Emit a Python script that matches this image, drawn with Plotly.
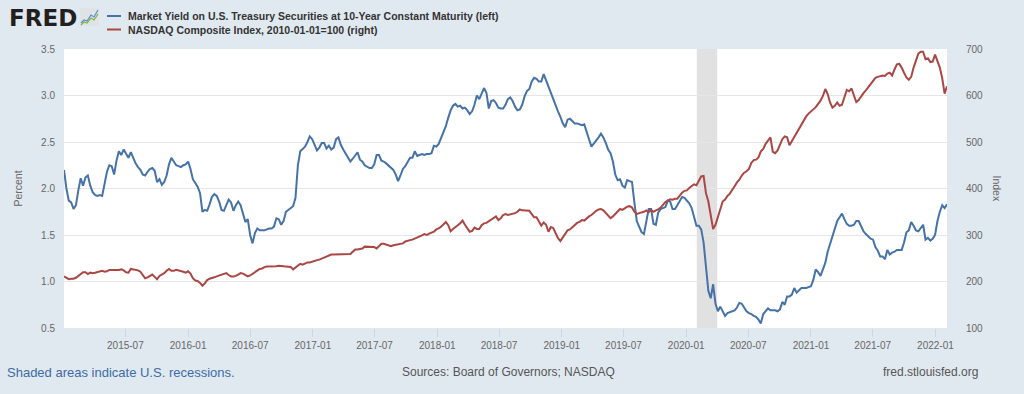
import pandas as pd
import plotly.graph_objects as go

# ---------------- data (weekly, weeks ending Friday) ----------------
START_DATE = "2015-01-02"

# Market Yield on U.S. Treasury Securities at 10-Year Constant Maturity (percent)
yield_2015 = [2.20, 2.00, 1.87, 1.85, 1.78, 1.82, 1.98, 2.11, 2.03, 2.12,
              2.14, 2.03, 1.96, 1.93, 1.92, 1.93, 1.92, 2.05, 2.18, 2.25,
              2.24, 2.15, 2.30, 2.40, 2.36, 2.42, 2.37, 2.33, 2.39, 2.32,
              2.27, 2.23, 2.20, 2.15, 2.14, 2.18, 2.21, 2.22, 2.19, 2.07,
              2.10, 2.04, 2.07, 2.14, 2.26, 2.33, 2.29, 2.25, 2.24, 2.23,
              2.25, 2.26]
yield_2016 = [2.29, 2.21, 2.10, 2.06, 2.02, 1.95, 1.75, 1.77, 1.76, 1.83,
              1.91, 1.94, 1.92, 1.86, 1.77, 1.76, 1.83, 1.88, 1.85, 1.76,
              1.82, 1.86, 1.82, 1.74, 1.64, 1.67, 1.50, 1.41, 1.52, 1.57,
              1.55, 1.55, 1.55, 1.56, 1.57, 1.57, 1.59, 1.68, 1.67, 1.61,
              1.65, 1.75, 1.77, 1.79, 1.81, 1.90, 2.25, 2.40, 2.43, 2.45,
              2.50, 2.56, 2.53]
yield_2017 = [2.46, 2.41, 2.44, 2.49, 2.49, 2.43, 2.46, 2.42, 2.44, 2.53,
              2.55, 2.47, 2.42, 2.38, 2.34, 2.29, 2.32, 2.36, 2.39, 2.31,
              2.29, 2.25, 2.23, 2.22, 2.22, 2.26, 2.36, 2.36, 2.30, 2.29,
              2.27, 2.25, 2.22, 2.20, 2.15, 2.08, 2.14, 2.21, 2.24, 2.29,
              2.33, 2.33, 2.40, 2.35, 2.36, 2.37, 2.36, 2.37, 2.37, 2.38,
              2.46, 2.45]
yield_2018 = [2.48, 2.54, 2.61, 2.67, 2.76, 2.84, 2.89, 2.91, 2.88, 2.89,
              2.86, 2.87, 2.84, 2.80, 2.83, 2.90, 3.00, 2.96, 3.02, 3.08,
              3.03, 2.86, 2.94, 2.95, 2.92, 2.87, 2.86, 2.86, 2.90, 2.96,
              2.98, 2.94, 2.88, 2.84, 2.85, 2.90, 2.99, 3.05, 3.07, 3.15,
              3.19, 3.18, 3.15, 3.15, 3.23, 3.16, 3.10, 3.04, 2.96, 2.88,
              2.83, 2.77]
yield_2019 = [2.70, 2.66, 2.74, 2.75, 2.73, 2.70, 2.70, 2.69, 2.68, 2.69,
              2.62, 2.53, 2.45, 2.48, 2.52, 2.55, 2.59, 2.55, 2.49, 2.42,
              2.38, 2.29, 2.15, 2.09, 2.10, 2.03, 2.01, 2.09, 2.08, 2.07,
              1.85, 1.65, 1.59, 1.53, 1.51, 1.64, 1.78, 1.78, 1.62, 1.61,
              1.74, 1.78, 1.79, 1.80, 1.87, 1.86, 1.78, 1.78, 1.82, 1.86,
              1.91, 1.90]
yield_2020 = [1.87, 1.84, 1.79, 1.69, 1.60, 1.60, 1.56, 1.42, 1.18, 0.90,
              0.82, 0.97, 0.76, 0.68, 0.73, 0.67, 0.63, 0.66, 0.67, 0.68,
              0.69, 0.72, 0.77, 0.76, 0.72, 0.68, 0.66, 0.65, 0.63, 0.62,
              0.59, 0.55, 0.65, 0.68, 0.71, 0.69, 0.69, 0.69, 0.68, 0.70,
              0.78, 0.75, 0.84, 0.84, 0.86, 0.93, 0.88, 0.91, 0.93, 0.93,
              0.93, 0.94]
yield_2021 = [0.95, 1.02, 1.13, 1.10, 1.06, 1.13, 1.20, 1.32, 1.40, 1.48,
              1.57, 1.65, 1.69, 1.73, 1.67, 1.62, 1.60, 1.60, 1.61, 1.65,
              1.65, 1.60, 1.54, 1.51, 1.48, 1.46, 1.45, 1.37, 1.33, 1.27,
              1.27, 1.24, 1.34, 1.29, 1.31, 1.32, 1.34, 1.34, 1.34, 1.42,
              1.53, 1.55, 1.64, 1.60, 1.55, 1.54, 1.58, 1.61, 1.45, 1.47,
              1.44, 1.46, 1.50]
yield_2022 = [1.65, 1.75, 1.82, 1.79, 1.83]

# NASDAQ Composite Index, 2010-01-01=100
nasdaq_2015 = [211, 207, 205, 206, 206, 208, 212, 215, 220, 220,
               216, 219, 218, 219, 220, 222, 223, 221, 222, 225,
               225, 225, 224, 225, 226, 224, 220, 219, 227, 226,
               225, 224, 221, 214, 207, 209, 212, 215, 210, 205,
               212, 215, 218, 223, 227, 223, 223, 225, 224, 222,
               221, 219]
nasdaq_2016 = [222, 217, 207, 202, 201, 197, 191, 196, 203, 206,
               207, 209, 211, 213, 215, 216, 218, 214, 211, 211,
               212, 215, 218, 217, 214, 211, 213, 217, 221, 225,
               227, 228, 231, 232, 232, 232, 232, 233, 234, 234,
               233, 232, 232, 231, 226, 230, 234, 238, 236, 239,
               241, 241, 243]
nasdaq_2017 = [245, 246, 247, 249, 251, 254, 255, 258, 258, 258,
               259, 259, 258, 259, 258, 259, 264, 269, 269, 270,
               271, 275, 275, 274, 274, 274, 271, 276, 281, 281,
               279, 277, 276, 278, 279, 281, 282, 282, 286, 288,
               289, 290, 292, 295, 297, 299, 302, 300, 303, 305,
               307, 312]
nasdaq_2018 = [314, 318, 324, 328, 321, 308, 313, 318, 321, 325,
               331, 322, 313, 307, 309, 316, 313, 313, 321, 325,
               326, 330, 333, 338, 340, 332, 336, 343, 345, 343,
               344, 346, 347, 350, 355, 353, 353, 353, 352, 345,
               338, 338, 330, 320, 327, 322, 307, 317, 315, 305,
               293, 287]
nasdaq_2019 = [295, 304, 310, 312, 317, 323, 326, 328, 332, 331,
               336, 340, 343, 348, 352, 355, 356, 353, 347, 341,
               336, 340, 346, 352, 356, 354, 358, 361, 362, 359,
               350, 345, 347, 348, 350, 353, 349, 354, 350, 353,
               355, 359, 365, 371, 374, 377, 376, 378, 378, 385,
               391, 395]
nasdaq_2020 = [396, 401, 406, 409, 407, 416, 426, 427, 390, 372,
               340, 313, 322, 340, 358, 372, 376, 384, 389, 396,
               405, 413, 419, 428, 434, 437, 442, 455, 461, 462,
               467, 480, 485, 496, 503, 510, 479, 476, 482, 495,
               506, 512, 510, 493, 502, 511, 520, 529, 540, 547,
               555, 561]
nasdaq_2021 = [565, 569, 575, 582, 589, 599, 614, 603, 585, 574,
               578, 585, 578, 580, 595, 612, 609, 615, 600, 586,
               590, 599, 605, 611, 618, 625, 632, 638, 640, 642,
               643, 642, 647, 649, 643, 656, 667, 668, 660, 649,
               639, 634, 640, 660, 677, 690, 694, 694, 678, 680,
               672, 673, 688]
nasdaq_2022 = [676, 660, 637, 604, 620]

recession_start = ["2020-02-01"]
recession_end = ["2020-04-01"]

yield10 = (yield_2015 + yield_2016 + yield_2017 + yield_2018 + yield_2019
           + yield_2020 + yield_2021 + yield_2022)
nasdaq = (nasdaq_2015 + nasdaq_2016 + nasdaq_2017 + nasdaq_2018 + nasdaq_2019
          + nasdaq_2020 + nasdaq_2021 + nasdaq_2022)
dates = pd.date_range(START_DATE, periods=len(yield10), freq="7D")

YIELD_NAME = "Market Yield on U.S. Treasury Securities at 10-Year Constant Maturity (left)"
NASDAQ_NAME = "NASDAQ Composite Index, 2010-01-01=100 (right)"

# ---------------- styling ----------------
W, H = 1024, 394
ML, MR, MT, MB = 64, 77, 49, 66
BLUE = "#4572a7"
RED = "#aa4643"
BG = "#e1e9f0"
FONT = "Liberation Sans, Arial, sans-serif"
PW = W - ML - MR
PH = H - MT - MB


def px_x(px):
    return (px - ML) / PW


def px_y(py):
    return (H - MB - py) / PH


fig = go.Figure()
fig.add_trace(go.Scatter(x=dates, y=yield10, name=YIELD_NAME, mode="lines",
                         line=dict(color=BLUE, width=2), yaxis="y",
                         showlegend=False))
fig.add_trace(go.Scatter(x=dates, y=nasdaq, name=NASDAQ_NAME, mode="lines",
                         line=dict(color=RED, width=2), yaxis="y2",
                         showlegend=False))

shapes = []
for s, e in zip(recession_start, recession_end):
    shapes.append(dict(type="rect", xref="x", yref="paper", x0=s, x1=e,
                       y0=0, y1=1, fillcolor="#e1e1e1", line_width=0,
                       layer="below"))

# legend keys
for py, col in [(16, BLUE), (29.5, RED)]:
    shapes.append(dict(type="line", xref="paper", yref="paper",
                       x0=px_x(107), x1=px_x(121), y0=px_y(py), y1=px_y(py),
                       line=dict(color=col, width=2)))

# small FRED chart icon
shapes.append(dict(type="rect", xref="paper", yref="paper",
                   x0=px_x(80), x1=px_x(99), y0=px_y(26), y1=px_y(8),
                   fillcolor="#dfe3e6", line_width=0))
icon_blue = [(81, 23), (84, 20), (87, 21), (91, 15), (94, 17), (98, 10)]
icon_green = [(81, 25), (84, 22), (87, 23), (91, 18), (94, 20), (98, 14)]
for pts, col in [(icon_green, "#7cb342"), (icon_blue, "#5b8fc7")]:
    path = "M " + " L ".join(f"{px_x(a):.5f},{px_y(b):.5f}" for a, b in pts)
    shapes.append(dict(type="path", xref="paper", yref="paper", path=path,
                       line=dict(color=col, width=1.2)))

annotations = [
    dict(text="<b>FRED</b>", x=px_x(7), y=px_y(18), xref="paper", yref="paper",
         xanchor="left", yanchor="middle", showarrow=False,
         font=dict(family="DejaVu Sans, sans-serif", size=23, color="#231f20")),
    dict(text="<b>" + YIELD_NAME + "</b>", x=px_x(126), y=px_y(16),
         xref="paper", yref="paper", xanchor="left", yanchor="middle",
         showarrow=False, font=dict(family=FONT, size=10.5, color="#333333")),
    dict(text="<b>" + NASDAQ_NAME + "</b>", x=px_x(126), y=px_y(30),
         xref="paper", yref="paper", xanchor="left", yanchor="middle",
         showarrow=False, font=dict(family=FONT, size=10.5, color="#333333")),
    dict(text="Index", x=px_x(997), y=0.5, xref="paper", yref="paper",
         xanchor="center", yanchor="middle", textangle=90, showarrow=False,
         font=dict(family=FONT, size=10.5, color="#666666")),
    dict(text="Shaded areas indicate U.S. recessions.", x=px_x(5), y=px_y(372),
         xref="paper", yref="paper", xanchor="left", yanchor="middle",
         showarrow=False, font=dict(family=FONT, size=13, color="#3d6ba5")),
    dict(text="Sources: Board of Governors; NASDAQ", x=px_x(508), y=px_y(372),
         xref="paper", yref="paper", xanchor="center", yanchor="middle",
         showarrow=False, font=dict(family=FONT, size=12, color="#555555")),
    dict(text="fred.stlouisfed.org", x=px_x(980), y=px_y(372),
         xref="paper", yref="paper", xanchor="right", yanchor="middle",
         showarrow=False, font=dict(family=FONT, size=12, color="#555555")),
]

fig.update_layout(
    width=W, height=H,
    margin=dict(l=ML, r=MR, t=MT, b=MB, autoexpand=False),
    paper_bgcolor=BG, plot_bgcolor="white",
    font=dict(family=FONT, size=10, color="#666666"),
    showlegend=False,
    shapes=shapes, annotations=annotations,
    xaxis=dict(type="date", range=[dates[0], dates[-1]],
               tick0="2015-07-01", dtick="M6", tickformat="%Y-%m",
               ticks="outside", ticklen=8, tickcolor="#ccd6eb", tickwidth=1,
               showgrid=False, showline=False, zeroline=False,
               tickfont=dict(size=10, color="#666666"), automargin=False),
    yaxis=dict(range=[0.5, 3.5], dtick=0.5, tickformat=".1f",
               showgrid=True, gridcolor="#e6e6e6", gridwidth=1,
               zeroline=False, showline=False, ticks="",
               ticklabelstandoff=8,
               tickfont=dict(size=10, color="#666666"),
               title=dict(text="Percent", standoff=16,
                          font=dict(size=10.5, color="#666666")),
               automargin=False),
    yaxis2=dict(range=[100, 700], dtick=100, overlaying="y", side="right",
                showgrid=False, zeroline=False, showline=False, ticks="",
                ticklabelstandoff=18,
                tickfont=dict(size=10, color="#666666"), automargin=False),
)

# the browser's default 8px body margin would shift the whole figure
fig.write_html("out.html",
               config={"displayModeBar": False},
               post_script="document.body.style.margin='0';"
                           "document.body.style.background='" + BG + "';")
